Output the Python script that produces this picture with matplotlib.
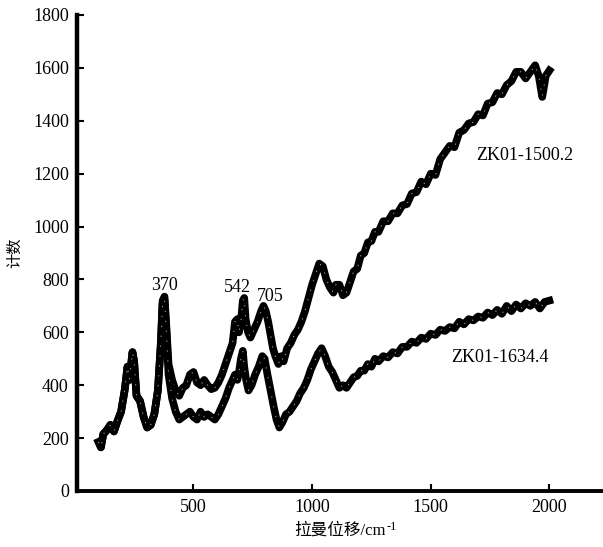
import numpy as np
import matplotlib
matplotlib.use('Agg')
import matplotlib.pyplot as plt

plt.rcParams['font.family'] = ['Liberation Serif', 'Noto Sans CJK SC', 'DejaVu Sans']

# Raman shift (cm-1) and counts
shift_upper = [100, 110, 120, 135, 150, 165, 180, 195, 210, 222, 230, 243, 250, 260, 275, 290, 305, 320, 335, 350,
               362, 370, 378, 386, 395, 410, 425, 440, 455, 470, 485, 500, 515, 530, 545, 560, 575, 590, 605, 620,
               635, 650, 665, 675, 685, 692, 700, 708, 714, 720, 730, 740, 755, 770, 785, 795, 805, 815, 825, 835,
               845, 858, 870, 880, 895, 910, 925, 940, 955, 970, 985, 1000, 1015, 1030, 1045, 1060, 1075, 1090, 1100, 1115,
               1130, 1145, 1160, 1175, 1190, 1205, 1220, 1235, 1250, 1265, 1280, 1300, 1320, 1340, 1360, 1380, 1400, 1420, 1440, 1460,
               1480, 1500, 1520, 1540, 1560, 1580, 1600, 1620, 1640, 1660, 1680, 1700, 1720, 1740, 1760, 1780, 1800, 1820, 1840, 1860,
               1880, 1900, 1920, 1940, 1955, 1970, 1985, 2000]
counts_upper = [185, 165, 215, 230, 250, 225, 265, 300, 380, 470, 420, 525, 490, 360, 340, 280, 240, 250, 290, 380,
                550, 720, 735, 620, 480, 420, 380, 360, 390, 400, 440, 450, 410, 400, 420, 400, 385, 390, 410, 440,
                480, 520, 560, 640, 650, 600, 640, 720, 730, 650, 600, 580, 610, 640, 680, 700, 680, 640, 590, 540,
                510, 480, 510, 490, 540, 560, 590, 610, 640, 680, 730, 780, 820, 860, 850, 800, 770, 750, 780, 780,
                740, 750, 790, 830, 840, 890, 900, 940, 945, 980, 980, 1020, 1020, 1050, 1050, 1080, 1085, 1125, 1130, 1170,
                1160, 1200, 1195, 1255, 1280, 1305, 1300, 1355, 1365, 1390, 1395, 1425, 1420, 1465, 1470, 1505, 1500, 1535, 1550, 1585,
                1585, 1560, 1585, 1610, 1570, 1490, 1570, 1590]

shift_lower = [100, 110, 120, 135, 150, 165, 180, 195, 210, 222, 230, 243, 250, 260, 275, 290, 305, 320, 335, 350,
               362, 370, 378, 386, 395, 410, 425, 440, 455, 470, 485, 500, 515, 530, 545, 560, 575, 590, 605, 620,
               635, 650, 665, 675, 685, 692, 700, 708, 714, 722, 732, 745, 760, 775, 790, 800, 812, 825, 838, 850,
               862, 875, 890, 905, 920, 935, 950, 965, 980, 995, 1010, 1025, 1040, 1055, 1070, 1085, 1100, 1115, 1130, 1145,
               1160, 1175, 1190, 1205, 1220, 1235, 1250, 1265, 1280, 1300, 1320, 1340, 1360, 1380, 1400, 1420, 1440, 1460, 1480, 1500,
               1520, 1540, 1560, 1580, 1600, 1620, 1640, 1660, 1680, 1700, 1720, 1740, 1760, 1780, 1800, 1820, 1840, 1860, 1880, 1900,
               1920, 1940, 1960, 1980, 2000]
counts_lower = [185, 165, 215, 230, 250, 225, 265, 300, 380, 470, 420, 525, 490, 360, 340, 280, 240, 250, 290, 380,
                550, 710, 725, 600, 440, 350, 300, 270, 280, 290, 300, 280, 270, 300, 280, 290, 280, 270, 290, 320,
                350, 390, 420, 440, 420, 450, 500, 530, 470, 420, 380, 400, 440, 470, 510, 500, 440, 380, 320, 270,
                240, 260, 290, 300, 320, 340, 370, 390, 420, 460, 490, 520, 540, 510, 470, 450, 420, 390, 400, 390,
                410, 430, 435, 455, 455, 480, 470, 500, 490, 510, 505, 525, 520, 545, 545, 565, 560, 580, 575, 595,
                590, 610, 605, 620, 615, 640, 630, 650, 645, 660, 655, 675, 665, 685, 670, 700, 680, 705, 690, 710,
                700, 715, 690, 715, 720]

peak_labels = ['370', '542', '705']
peak_label_pos = [(377, 777), (684, 769), (824, 735)]

fig = plt.figure(figsize=(6.03, 5.47), dpi=100)
ax = fig.add_axes([0.128, 0.1024, 0.872, 0.8702])

for xs, ys in [(shift_upper, counts_upper), (shift_lower, counts_lower)]:
    ax.plot(xs, ys, color='black', lw=5.5, solid_joinstyle='round')
    ax.plot(xs, ys, color='white', lw=0.7, alpha=0.7, dashes=(1.2, 9))

for txt, (px, py) in zip(peak_labels, peak_label_pos):
    ax.text(px, py, txt, fontsize=13, ha='center', va='center')
ax.text(1691, 1268, 'ZK01-1500.2', fontsize=13, ha='left', va='center')
ax.text(1586, 505, 'ZK01-1634.4', fontsize=13, ha='left', va='center')

ax.set_xlim(10, 2226)
ax.set_ylim(0, 1800)
ax.set_xticks([500, 1000, 1500, 2000])
ax.set_yticks(np.arange(0, 1801, 200))
ax.tick_params(direction='in', length=5, width=1.5, labelsize=13, pad=6)
ax.spines['top'].set_visible(False)
ax.spines['right'].set_visible(False)
ax.spines['left'].set_linewidth(3.2)
ax.spines['bottom'].set_linewidth(2.8)

xlab = ax.set_xlabel('拉曼位移/cm', fontsize=12)
ax.xaxis.set_label_coords(0.50, -0.066)
ax.set_ylabel('计数', fontsize=11, labelpad=8)

# superscript -1 placed right after the x label
fig.canvas.draw()
bb = xlab.get_window_extent()
fig.text((bb.x1 + 1) / fig.bbox.width, (bb.y1 + 1) / fig.bbox.height, '-1',
         fontsize=9, ha='left', va='top')

fig.savefig('out.png', dpi=100)
